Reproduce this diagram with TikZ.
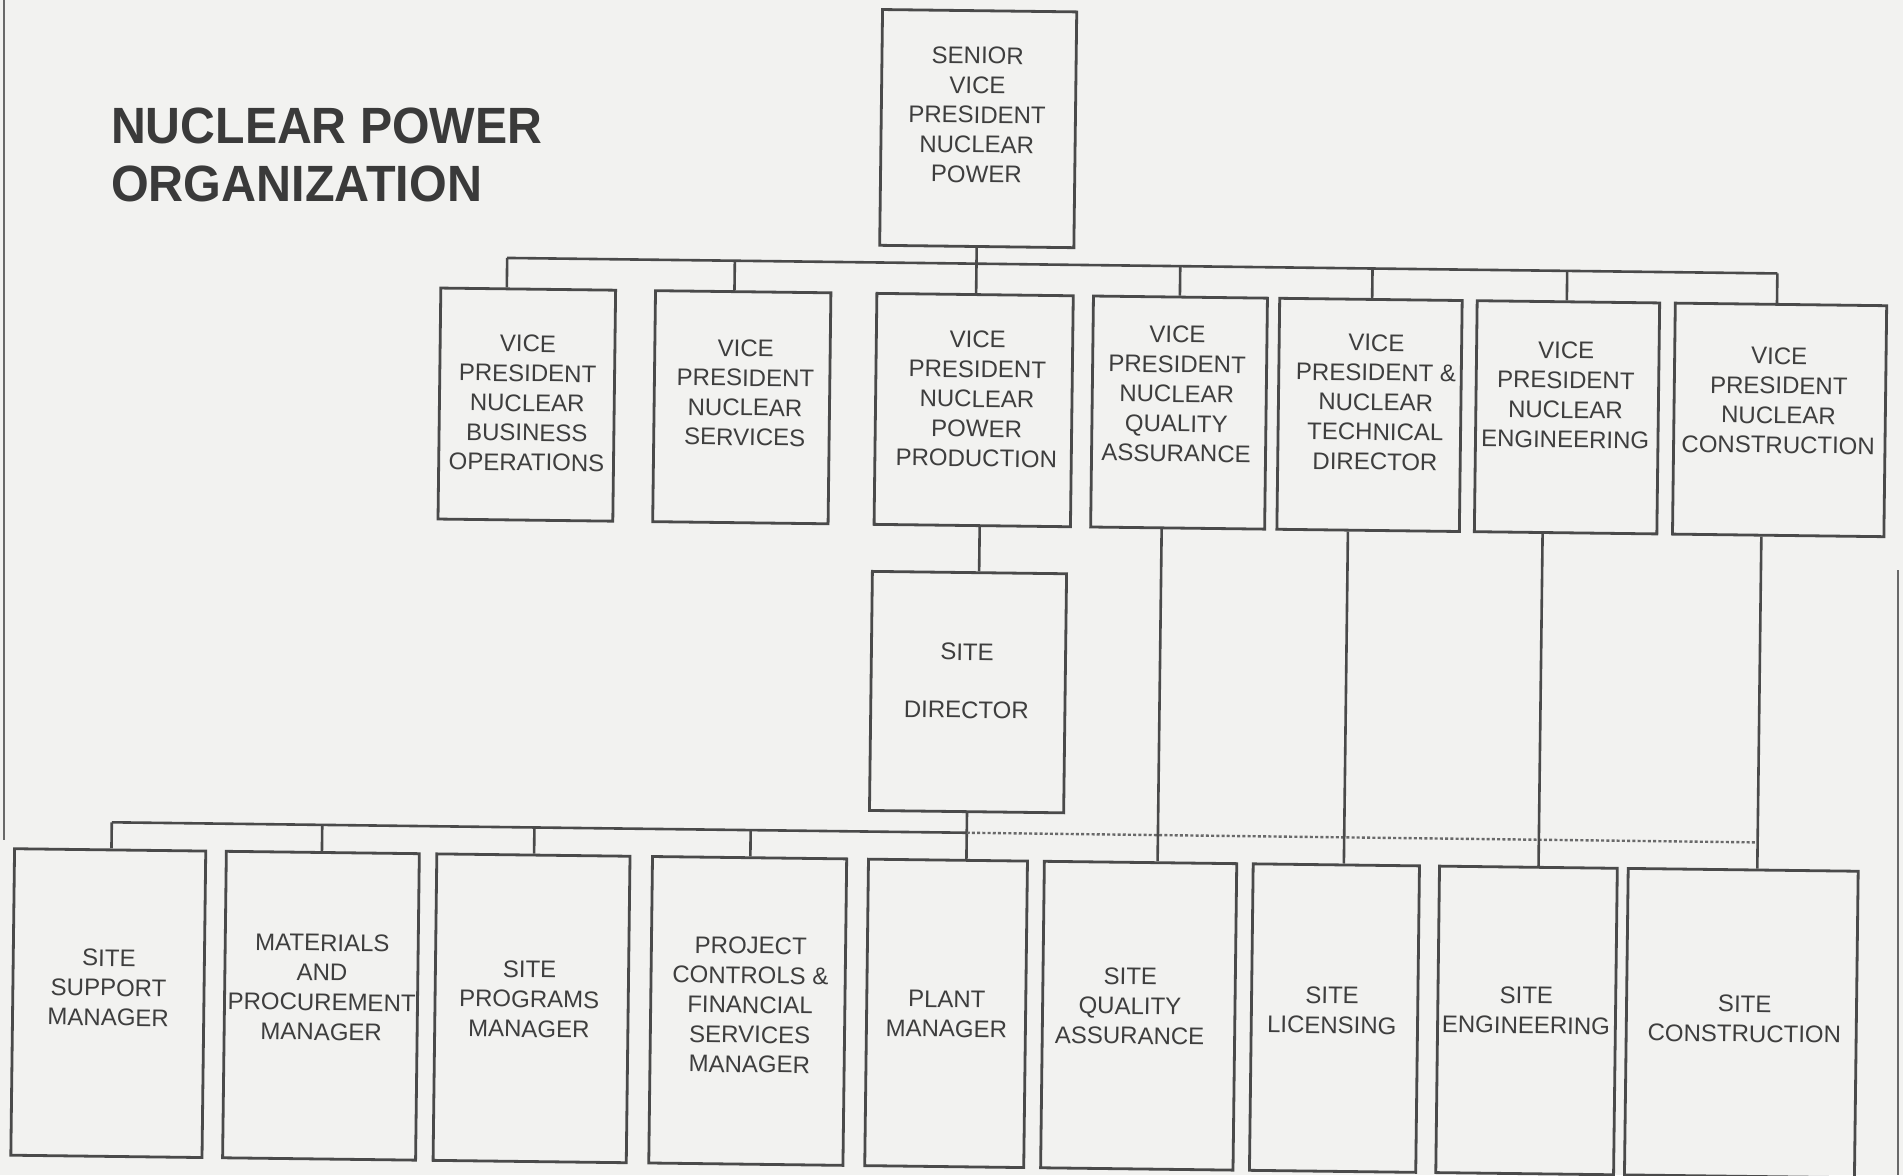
\documentclass[tikz,border=0pt]{standalone}
\usepackage{fontspec}
\usepackage{graphicx}
\setmainfont{Liberation Sans}
\definecolor{bgc}{RGB}{242,242,240}
\definecolor{linec}{RGB}{74,74,74}
\definecolor{textc}{RGB}{62,62,62}
\definecolor{titlec}{RGB}{58,58,58}
\definecolor{dotc}{RGB}{105,105,105}
\tikzset{
  box/.style={draw=linec, line width=2.8pt, rectangle, inner sep=0pt},
  vpbox/.style={box, minimum height=231pt},
  botbox/.style={box, minimum height=306.5pt},
  lbl/.style={font=\fontsize{24}{29.7}\selectfont, align=center, text=textc, inner sep=0pt},
  conn/.style={draw=linec, line width=2.6pt},
  dotline/.style={draw=dotc, line width=2.4pt, dash pattern=on 3pt off 2.2pt},
  edge/.style={draw=dotc, line width=1.6pt},
  ttl/.style={font=\fontsize{51}{61}\selectfont\bfseries, text=titlec, inner sep=0pt, anchor=base west}
}
\begin{document}
\begin{tikzpicture}[x=1pt,y=-1pt]
\fill[bgc] (0,0) rectangle (1903,1175);
\useasboundingbox (0,0) rectangle (1903,1175);
% page edges
\coordinate (le1) at (4,0); \coordinate (le2) at (4,840);
\draw[edge] (le1) -- (le2);
\coordinate (re1) at (1898,570); \coordinate (re2) at (1898,1175);
\draw[edge] (re1) -- (re2);
% title
\node[ttl] (title1) at (111,143.3) {\scalebox{0.945}[1]{NUCLEAR POWER}};
\node[ttl] (title2) at (111,201.7) {\scalebox{0.951}[1]{ORGANIZATION}};

\begin{scope}[rotate around={-0.7:(951.5,587.4)}, transform shape]
% top
\node[box, minimum width=194.2pt, minimum height=235.8pt] (svp) at (972.6,128.3) {};
\node[lbl] (svpT) at (971.3,114.5) {SENIOR\\VICE\\PRESIDENT\\NUCLEAR\\POWER};
% vice presidents
\node[vpbox, minimum width=174.8pt] (vp1) at (524.6,409.8) {};
\node[vpbox, minimum width=175.4pt] (vp2) at (739.6,409.8) {};
\node[vpbox, minimum width=196.4pt] (vp3) at (971.5,409.8) {};
\node[vpbox, minimum width=174.0pt] (vp4) at (1176.9,409.8) {};
\node[vpbox, minimum width=182.5pt] (vp5) at (1367.4,409.8) {};
\node[vpbox, minimum width=182.5pt] (vp6) at (1564.9,409.8) {};
\node[vpbox, minimum width=211.4pt] (vp7) at (1777.5,409.8) {};
\node[lbl] (vp1T) at (525.0,408.2) {VICE\\PRESIDENT\\NUCLEAR\\BUSINESS\\OPERATIONS};
\node[lbl] (vp2T) at (742.9,395.2) {VICE\\PRESIDENT\\NUCLEAR\\SERVICES};
\node[lbl] (vp3T) at (974.7,398.6) {VICE\\PRESIDENT\\NUCLEAR\\POWER\\PRODUCTION};
\node[lbl] (vp4T) at (1174.4,391.2) {VICE\\PRESIDENT\\NUCLEAR\\QUALITY\\ASSURANCE};
\node[lbl] (vp5T) at (1373.4,397.1) {VICE\\PRESIDENT \&\\NUCLEAR\\TECHNICAL\\DIRECTOR};
\node[lbl] (vp6T) at (1563.3,387.5) {VICE\\PRESIDENT\\NUCLEAR\\ENGINEERING};
\node[lbl] (vp7T) at (1776.4,390.4) {VICE\\PRESIDENT\\NUCLEAR\\CONSTRUCTION};
% site director
\node[box, minimum width=194.2pt, minimum height=239.1pt] (sd) at (969.3,691.9) {};
\node[lbl] (sdT) at (967.8,680.7) {SITE\\[28.3pt]DIRECTOR};
% bottom row
\node[botbox, minimum width=191.2pt] (b1) at (113.4,1013.4) {};
\node[botbox, minimum width=193.0pt] (b2) at (326.1,1013.4) {};
\node[botbox, minimum width=193.2pt] (b3) at (536.7,1013.4) {};
\node[botbox, minimum width=194.2pt] (b4) at (752.9,1013.4) {};
\node[botbox, minimum width=159.0pt] (b5) at (951.3,1013.4) {};
\node[botbox, minimum width=192.4pt] (b6) at (1143.9,1013.4) {};
\node[botbox, minimum width=166.3pt] (b7) at (1339.7,1013.4) {};
\node[botbox, minimum width=177.8pt] (b8) at (1531.8,1013.4) {};
\node[botbox, minimum width=230.0pt] (b9) at (1746.6,1013.4) {};
\node[lbl] (b1T) at (113.5,998.0) {SITE\\SUPPORT\\MANAGER};
\node[lbl] (b2T) at (326.7,995.0) {MATERIALS\\AND\\PROCUREMENT\\MANAGER};
\node[lbl] (b3T) at (534.3,1004.3) {SITE\\PROGRAMS\\MANAGER};
\node[lbl] (b4T) at (755.2,1007.4) {PROJECT\\CONTROLS \&\\FINANCIAL\\SERVICES\\MANAGER};
\node[lbl] (b5T) at (951.8,1014.1) {PLANT\\MANAGER};
\node[lbl] (b6T) at (1135.1,1003.9) {SITE\\QUALITY\\ASSURANCE};
\node[lbl] (b7T) at (1337.1,1005.7) {SITE\\LICENSING};
\node[lbl] (b8T) at (1531.3,1003.4) {SITE\\ENGINEERING};
\node[lbl] (b9T) at (1749.8,1009.2) {SITE\\CONSTRUCTION};
% top bus
\coordinate (j1) at (503.2,263.4);
\coordinate (j2) at (730.9,263.4);
\coordinate (j4) at (1176.4,263.4);
\coordinate (j5) at (1368.7,263.4);
\coordinate (j6) at (1563.4,263.4);
\coordinate (j7) at (1773.6,263.4);
\draw[conn] (j1) -- (j7);
\draw[conn] (svp.south) -- (svp.south |- vp3.north);
\draw[conn] (j1) -- (j1 |- vp1.north);
\draw[conn] (j2) -- (j2 |- vp2.north);
\draw[conn] (j4) -- (j4 |- vp4.north);
\draw[conn] (j5) -- (j5 |- vp5.north);
\draw[conn] (j6) -- (j6 |- vp6.north);
\draw[conn] (j7) -- (j7 |- vp7.north);
% VP power production to site director
\coordinate (sdc) at (979,550);
\draw[conn] (sdc |- vp3.south) -- (sdc |- sd.north);
% bottom bus
\coordinate (m1) at (114.7,832.6);
\coordinate (m2) at (325.2,832.6);
\coordinate (m3) at (537.4,832.6);
\coordinate (m4) at (753.7,832.6);
\coordinate (m5) at (969.8,832.6);
\draw[conn] (m1) -- (m5);
\draw[conn] (m5 |- sd.south) -- (m5 |- b5.north);
\draw[conn] (m1) -- (m1 |- b1.north);
\draw[conn] (m2) -- (m2 |- b2.north);
\draw[conn] (m3) -- (m3 |- b3.north);
\draw[conn] (m4) -- (m4 |- b4.north);
% VP to site functions
\coordinate (n1) at (1161.0,832.6);
\coordinate (n2) at (1347.3,832.6);
\coordinate (n3) at (1542.0,832.6);
\coordinate (n4) at (1760.8,832.6);
\draw[dotline] (m5) -- (n4);
\draw[conn] (n1 |- vp4.south) -- (n1 |- b6.north);
\draw[conn] (n2 |- vp5.south) -- (n2 |- b7.north);
\draw[conn] (n3 |- vp6.south) -- (n3 |- b8.north);
\draw[conn] (n4 |- vp7.south) -- (n4 |- b9.north);
\end{scope}
\end{tikzpicture}
\end{document}
